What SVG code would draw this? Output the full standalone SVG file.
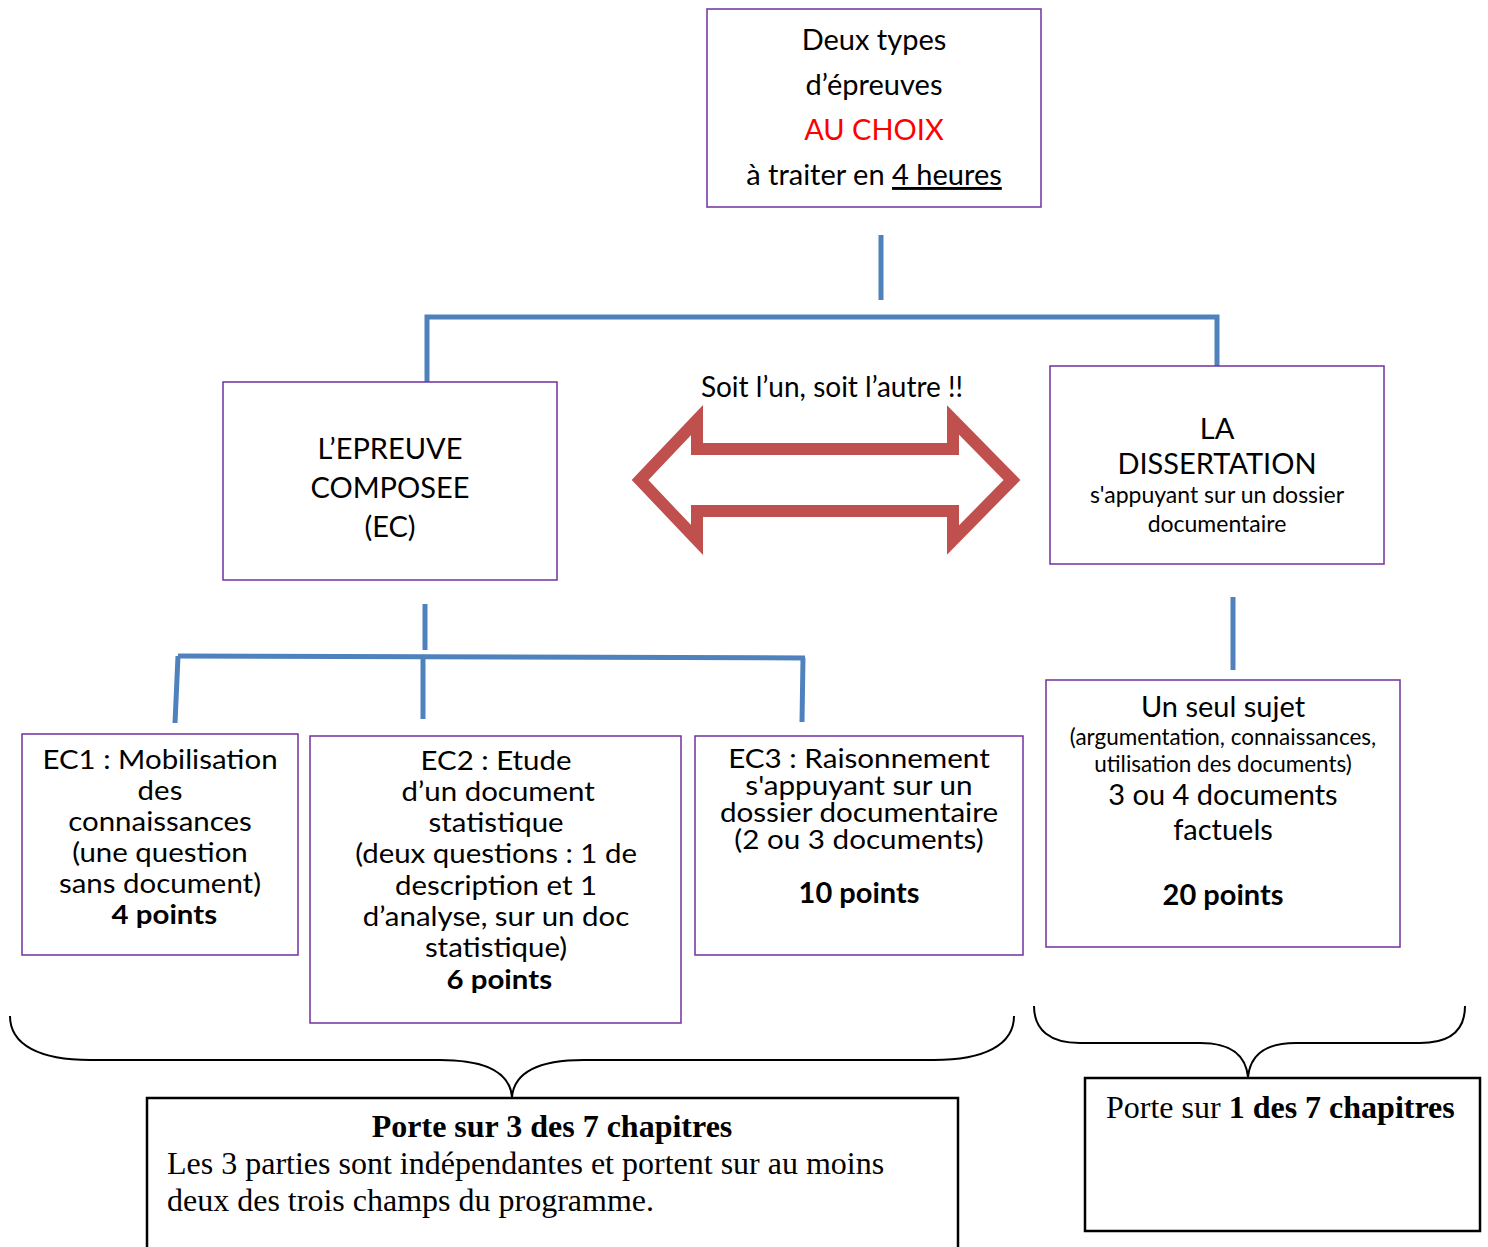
<svg xmlns="http://www.w3.org/2000/svg" width="1488" height="1247" viewBox="0 0 1488 1247">
<style>
.box{fill:#fff;stroke:#7030A0;stroke-width:1.5}
.bbox{fill:#fff;stroke:#000;stroke-width:2.5}
.t{font-family:Lato,"Open Sans",sans-serif;font-size:29px;fill:#000;text-anchor:middle}
.m{font-size:27px}
.n{font-size:26px}
.s{font-size:23px}
.b{font-weight:bold}
.serif{font-family:"Liberation Serif","Times New Roman",serif;font-size:32px;fill:#000}
.conn{stroke:#4F81BD;stroke-width:5;fill:none}
.brace{stroke:#000;stroke-width:2;fill:none}
</style>
<rect width="1488" height="1247" fill="#fff"/>
<g id="connectors">
<line class="conn" x1="881" y1="235" x2="881" y2="300"/>
<polyline class="conn" points="427,382 427,317 1217,317 1217,367"/>
<line class="conn" x1="425" y1="604" x2="425" y2="650"/>
<line class="conn" x1="178" y1="656" x2="805" y2="658"/>
<line class="conn" x1="178" y1="656" x2="175" y2="723"/>
<line class="conn" x1="423" y1="656" x2="423" y2="719"/>
<line class="conn" x1="803" y1="658" x2="802" y2="722"/>
<line class="conn" x1="1233" y1="597" x2="1233" y2="670"/>
<path class="brace" d="M10,1016 C10,1045 40,1060 90,1060 L440,1060 C490,1060 510,1075 512,1097 C514,1075 534,1060 584,1060 L934,1060 C984,1060 1014,1045 1014,1016"/>
<path class="brace" d="M1034,1006 C1034,1030 1050,1043 1080,1043 L1200,1043 C1235,1043 1246,1058 1248,1077 C1250,1058 1261,1043 1296,1043 L1420,1043 C1450,1043 1465,1030 1465,1006"/>
</g>
<g id="top">
<rect class="box" x="707" y="9" width="334" height="198"/>
<text class="t" x="874" y="50">Deux types</text>
<text class="t" x="874" y="95">d’épreuves</text>
<text class="t" x="874" y="140" style="fill:#FF0000">AU CHOIX</text>
<text class="t" x="874" y="185">à traiter en <tspan text-decoration="underline">4 heures</tspan></text>
</g>
<g id="ec">
<rect class="box" x="223" y="382" width="334" height="198"/>
<text class="t" x="390" y="459">L’EPREUVE</text>
<text class="t" x="390" y="498">COMPOSEE</text>
<text class="t" x="390" y="537">(EC)</text>
</g>
<g id="arrow">
<polygon points="640,480 697,420 697,449 953,449 953,420 1012,480 953,540 953,511 697,511 697,540" fill="none" stroke="#C0504D" stroke-width="12" stroke-miterlimit="10"/>
<text class="t" x="832" y="397" style="font-size:28px">Soit l’un, soit l’autre !!</text>
</g>
<g id="dissertation">
<rect class="box" x="1050" y="366" width="334" height="198"/>
<text class="t" x="1217" y="439">LA</text>
<text class="t" x="1217" y="474">DISSERTATION</text>
<text class="t s" x="1217" y="503">s'appuyant sur un dossier</text>
<text class="t s" x="1217" y="532">documentaire</text>
</g>
<g id="ec1">
<rect class="box" x="22" y="734" width="276" height="221"/>
<g transform="matrix(1.09,0,0,1,-14.4,0)">
<text class="t m" x="160" y="769">EC1 : Mobilisation</text>
<text class="t m" x="160" y="800">des</text>
<text class="t m" x="160" y="831">connaissances</text>
<text class="t m" x="160" y="862">(une question</text>
<text class="t m" x="160" y="893">sans document)</text>
<text class="t m b" x="164" y="924">4 points</text>
</g>
</g>
<g id="ec2">
<rect class="box" x="310" y="736" width="371" height="287"/>
<g transform="matrix(1.09,0,0,1,-44.6,0)">
<text class="t m" x="496" y="770">EC2 : Etude</text>
<text class="t m" x="498" y="801">d’un document</text>
<text class="t m" x="496" y="832">statistique</text>
<text class="t m" x="496" y="863">(deux questions : 1 de</text>
<text class="t m" x="496" y="895">description et 1</text>
<text class="t m" x="496" y="926">d’analyse, sur un doc</text>
<text class="t m" x="496" y="957">statistique)</text>
<text class="t m b" x="499" y="989">6 points</text>
</g>
</g>
<g id="ec3">
<rect class="box" x="695" y="736" width="328" height="219"/>
<g transform="matrix(1.14,0,0,1,-120.3,0)">
<text class="t n" x="859" y="768">EC3 : Raisonnement</text>
<text class="t n" x="859" y="795">s'appuyant sur un</text>
<text class="t n" x="859" y="822">dossier documentaire</text>
<text class="t n" x="859" y="849">(2 ou 3 documents)</text>
</g>
<text class="t b" x="859" y="903">10 points</text>
</g>
<g id="sujet">
<rect class="box" x="1046" y="680" width="354" height="267"/>
<text class="t" x="1223" y="717">Un seul sujet</text>
<text class="t s" x="1223" y="745" style="font-size:22.5px">(argumentation, connaissances,</text>
<text class="t s" x="1223" y="772" style="font-size:22.5px">utilisation des documents)</text>
<text class="t" x="1223" y="805">3 ou 4 documents</text>
<text class="t" x="1223" y="840">factuels</text>
<text class="t b" x="1223" y="905">20 points</text>
</g>
<g id="porte3">
<rect class="bbox" x="147" y="1098" width="811" height="160"/>
<text class="serif" x="552" y="1137" text-anchor="middle" font-weight="bold">Porte sur 3 des 7 chapitres</text>
<text class="serif" x="167" y="1174">Les 3 parties sont indépendantes et portent sur au moins</text>
<text class="serif" x="167" y="1211">deux des trois champs du programme.</text>
</g>
<g id="porte1">
<rect class="bbox" x="1085" y="1078" width="395" height="153"/>
<text class="serif" x="1106" y="1118">Porte sur <tspan font-weight="bold">1 des 7 chapitres</tspan></text>
</g>
</svg>
